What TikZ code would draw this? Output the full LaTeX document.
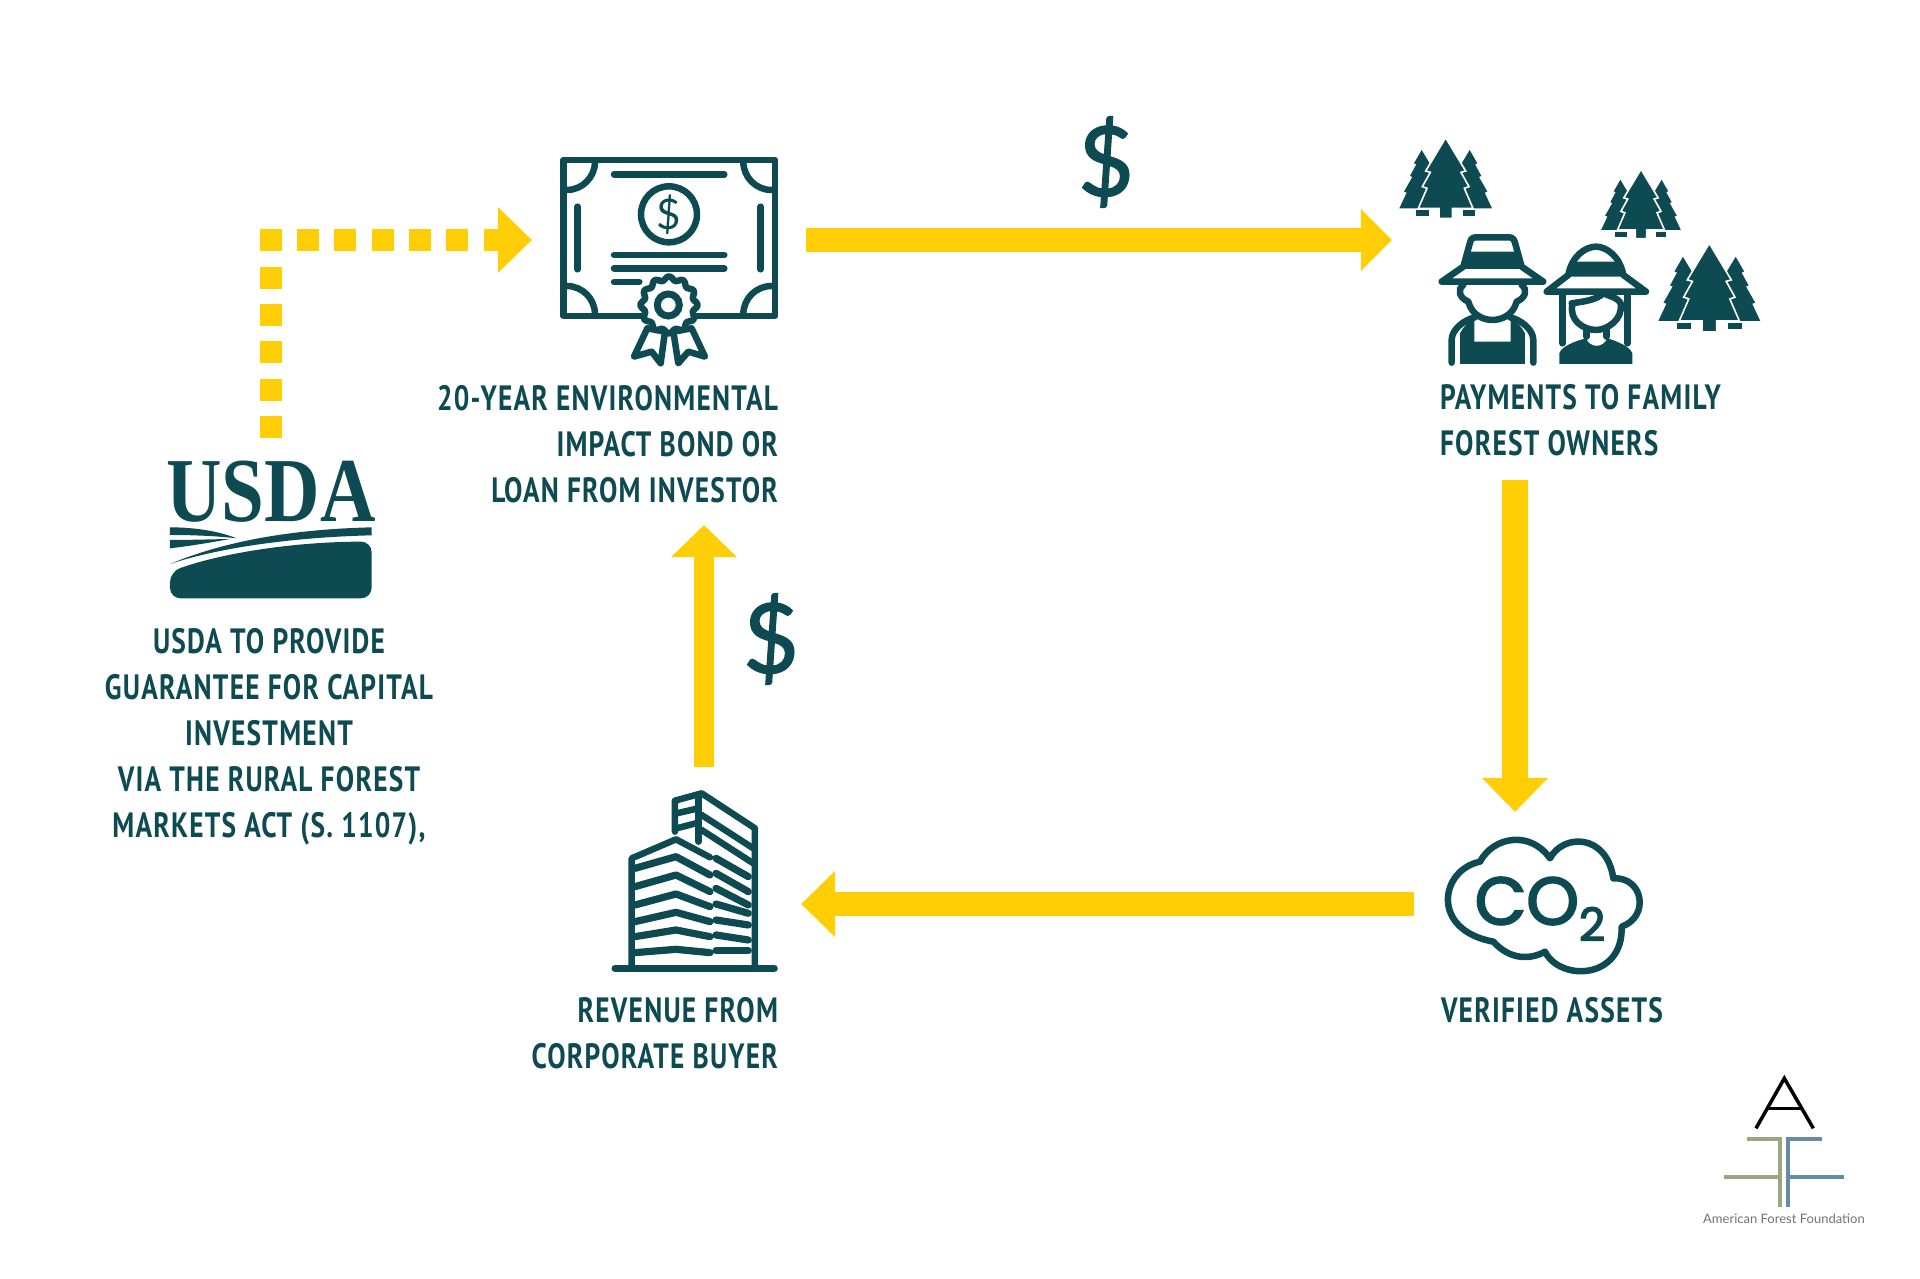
\documentclass[tikz,border=0pt]{standalone}
\usepackage{fontspec}
\usetikzlibrary{arrows.meta}
\newfontfamily\labelfont[FakeStretch=0.78,LetterSpace=3.5]{PT Sans}
\newfontfamily\usdafont[FakeStretch=0.84]{Liberation Serif}
\newfontfamily\plainfont{Lato}
\newfontfamily\dollarfont[FakeBold=1.5]{Lato}
\newfontfamily\roundfont[FakeBold=3]{Poppins}
\definecolor{forestteal}{HTML}{0E4A51}
\definecolor{flowyellow}{HTML}{FFCE07}
\definecolor{leafolive}{HTML}{9AA67E}
\definecolor{riverblue}{HTML}{668BA5}
\tikzset{
	flowline/.style={draw=flowyellow,line width=2.4mm,-{Triangle[length=3.4mm,width=6.4mm]}},
	spot/.style={inner sep=0pt,outer sep=0pt},
	caption/.style={spot,text=forestteal,font=\labelfont\bfseries\fontsize{10}{13.1}\selectfont},
	dollar/.style={spot,text=forestteal,font=\dollarfont\fontsize{27.5}{28}\selectfont},
	ink/.style={draw=forestteal,line width=0.65mm,line cap=round,line join=round},
	pics/pinetrio/.style={code={
		\fill[forestteal] (-30,0) -- (-20,-60) -- (-45,-130) -- (-72,-175) -- (-95,-135) -- (-88,-132) -- (-107,-97) -- (-100,-94) -- (-125,-50) -- (-117,-47) -- (-139,0) -- cycle;
		\fill[forestteal] (30,0) -- (20,-60) -- (45,-130) -- (72,-175) -- (95,-135) -- (88,-132) -- (107,-97) -- (100,-94) -- (125,-50) -- (117,-47) -- (139,0) -- cycle;
		\filldraw[fill=forestteal,draw=white,line width=0.16mm,line join=miter] (0,-212) -- (60,-112) -- (46,-108) -- (70,-65) -- (56,-60) -- (82,0) -- (20,0) -- (20,30) -- (-20,30) -- (-20,0) -- (-82,0) -- (-56,-60) -- (-70,-65) -- (-46,-108) -- (-60,-112) -- cycle;
		\fill[forestteal] (-89,6) rectangle (-50,23);
		\fill[forestteal] (51,6) rectangle (89,23);
	}}
}
\begin{document}
\begin{tikzpicture}[x=0.01cm,y=-0.01cm]
	\path[use as bounding box] (0,0) rectangle (1920,1279);

	\node[spot,text=forestteal,font=\usdafont\bfseries\fontsize{26}{26}\selectfont,minimum width=2.1cm,minimum height=1.08cm] (usda) at (271,492) {USDA};
	\node[spot,minimum width=2.74cm,minimum height=1cm] (bond) at (669,240) {};
	\node[spot,minimum width=2.46cm,minimum height=1cm] (owners) at (1515,240) {};
	\node[spot,minimum width=2.02cm,minimum height=1.84cm] (cloud) at (1515,904) {};
	\node[spot,minimum width=1.94cm,minimum height=2.74cm] (tower) at (704,904) {};

	\node[caption,align=center] (usdatext) at (269,737) {USDA TO PROVIDE\\GUARANTEE FOR CAPITAL\\INVESTMENT\\VIA THE RURAL FOREST\\MARKETS ACT (S. 1107),};
	\node[caption,align=right,anchor=east,minimum height=1.62cm] (bondtext) at (778,444) {20-YEAR ENVIRONMENTAL\\IMPACT BOND OR\\LOAN FROM INVESTOR};
	\node[caption,align=left,anchor=west,minimum height=1.2cm] (ownerstext) at (1440,420) {PAYMENTS TO FAMILY\\FOREST OWNERS};
	\node[caption,align=left,anchor=west] (cloudtext) at (1441,1010) {VERIFIED ASSETS};
	\node[caption,align=right,anchor=east] (towertext) at (778,1033) {REVENUE FROM\\CORPORATE BUYER};
	\node[dollar] (topdollar) at (1106,162) {\$};
	\node[dollar] (sidedollar) at (771,639) {\$};

	\draw[flowline,line width=2.2mm,dash pattern=on 0.22cm off 0.153cm] (usda.north) |- (bond.west);
	\draw[flowline,-{Triangle[length=3.1mm,width=6mm]}] (bond.east) -- (owners.west);
	\draw[flowline,line width=2.6mm] (ownerstext.south -| cloud.north) -- (cloud.north);
	\draw[flowline] (cloud.west) -- (tower.east);
	\draw[flowline,line width=2mm,-{Triangle[length=3.2mm,width=6.4mm]}] (tower.north) -- (tower.north |- bondtext.south);

	\begin{scope}[shift={(140,440)},scale=0.3333]
		\fill[forestteal] (90,262) .. controls (170,262) and (240,275) .. (290,295) .. controls (230,288) and (160,285) .. (90,285) -- cycle;
		\fill[forestteal] (90,300) .. controls (150,300) and (210,298) .. (270,297) .. controls (210,308) and (150,318) .. (90,325) -- cycle;
		\fill[forestteal] (90,372) .. controls (250,305) and (450,268) .. (695,262) -- (695,286) .. controls (450,292) and (230,325) .. (90,372) -- cycle;
		\fill[forestteal,rounded corners=3pt] (90,475) -- (90,395) .. controls (260,335) and (480,305) .. (695,305) -- (695,475) -- cycle;
	\end{scope}

	\begin{scope}[shift={(530,130)},scale=0.3333]
		\draw[ink] (100,90) rectangle (735,558);
		\draw[ink] (195,95) arc[start angle=0,end angle=90,radius=85];
		\draw[ink] (640,95) arc[start angle=180,end angle=90,radius=85];
		\draw[ink] (195,553) arc[start angle=0,end angle=-90,radius=85];
		\draw[ink] (640,553) arc[start angle=180,end angle=270,radius=85];
		\draw[ink] (252,133) -- (583,133);
		\draw[ink] (252,375) -- (583,375);
		\draw[ink] (252,415) -- (583,415);
		\draw[ink] (252,456) -- (328,456);
		\draw[ink] (143,230) -- (143,418);
		\draw[ink] (692,230) -- (692,418);
		\draw[ink] (417,253) circle[radius=84];
		\node[spot,text=forestteal,font=\plainfont\fontsize{12}{12}\selectfont] (seal) at (417,253) {\$};
		\filldraw[ink,fill=white] (352,595) -- (312,680) -- (365,665) -- (392,700) -- (405,605) -- cycle;
		\filldraw[ink,fill=white] (430,605) -- (445,700) -- (475,665) -- (525,680) -- (485,595) -- cycle;
		\filldraw[ink,fill=white] plot[smooth cycle,samples=73,domain=0:355] ({417+(80+6*cos(12*\x))*cos(\x)},{525+(80+6*cos(12*\x))*sin(\x)});
		\draw[forestteal,line width=0.7mm] (415,525) circle[radius=33];
	\end{scope}

	\begin{scope}[shift={(1380,120)},scale=0.3333]
		\pic[transform shape] (grovea) at (197,265) {pinetrio};
		\pic[transform shape,scale=0.86] (groveb) at (783,330) {pinetrio};
		\pic[transform shape,scale=1.1] (grovec) at (988,603) {pinetrio};
		\draw[ink] (185,485) -- (250,440) -- (270,368) .. controls (272,355) and (280,352) .. (290,352) -- (385,352) .. controls (395,352) and (402,355) .. (405,368) -- (425,440) -- (490,485) -- cycle;
		\fill[forestteal] (254,395) -- (420,395) -- (432,447) -- (243,447) -- cycle;
		\draw[ink] (250,495) .. controls (230,510) and (240,535) .. (265,545) .. controls (275,585) and (310,600) .. (337,600) .. controls (365,600) and (400,585) .. (410,545) .. controls (435,535) and (445,510) .. (425,495);
		\draw[ink] (215,728) -- (215,660) .. controls (215,630) and (250,600) .. (285,592);
		\draw[ink] (460,728) -- (460,660) .. controls (460,630) and (425,600) .. (390,592);
		\fill[forestteal] (240,732) -- (240,640) .. controls (250,620) and (265,605) .. (283,597) -- (283,665) -- (392,665) -- (392,597) .. controls (410,605) and (425,620) .. (435,640) -- (435,732) -- cycle;
		\draw[ink] (500,515) -- (565,465) .. controls (575,410) and (615,380) .. (648,380) .. controls (680,380) and (720,410) .. (730,465) -- (798,515) -- cycle;
		\fill[forestteal] (582,425) -- (712,425) -- (733,470) -- (562,470) -- cycle;
		\draw[ink] (548,520) -- (548,670);
		\draw[ink] (742,520) -- (742,670);
		\draw[ink] (575,550) .. controls (610,545) and (650,540) .. (670,520) .. controls (690,530) and (710,530) .. (722,550) .. controls (730,600) and (680,630) .. (648,630) .. controls (610,630) and (565,600) .. (578,550);
		\draw[ink] (620,630) -- (620,650);
		\draw[ink] (680,630) -- (680,650);
		\fill[forestteal] (538,732) -- (538,700) .. controls (545,680) and (580,665) .. (618,655) .. controls (630,685) and (670,685) .. (682,655) .. controls (715,665) and (750,680) .. (757,700) -- (757,732) -- cycle;
	\end{scope}

	\begin{scope}[shift={(1430,820)},scale=0.3333]
		\draw[ink] (360,115) .. controls (300,30) and (190,50) .. (150,125) .. controls (30,150) and (0,330) .. (190,365) .. controls (240,420) and (300,420) .. (345,395) .. controls (390,485) and (580,480) .. (575,320) .. controls (660,290) and (640,170) .. (550,175) .. controls (530,40) and (400,40) .. (360,115) -- cycle;
	\end{scope}
	\node[spot,text=forestteal,font=\roundfont\fontsize{19}{19}\selectfont] (carbon) at (1540,909) {CO\raisebox{-0.45ex}{\fontsize{13}{13}\selectfont 2}};

	\begin{scope}[shift={(590,780)},scale=0.3333]
		\draw[ink,line width=0.7mm] (75,565) -- (553,565);
		\draw[ink] (125,560) -- (125,235) -- (258,178) -- (360,232);
		\draw[ink] (495,560) -- (495,145) -- (335,40) -- (255,62) -- (255,155);
		\draw[ink] (325,45) -- (325,185);
		\draw[ink] (260,100) -- (325,85);
		\draw[ink] (260,145) -- (325,128);
		\draw[ink] (335,105) -- (490,205);
		\draw[ink] (335,150) -- (490,250);
		\foreach \ya/\yb/\yc in {265/230/285,320/285/335,375/342/380,425/397/425,470/450/470,518/508/518}
			\draw[ink,line width=0.72mm] (135,\ya) -- (258,\yb) -- (360,\yc);
		\foreach \yd/\ye in {235/290,280/335,325/375,372/400,420/435,465/480,512/512}
			\draw[ink,line width=0.72mm] (378,\yd) -- (475,\ye);
	\end{scope}

	\begin{scope}[shift={(1680,1060)},scale=0.3333]
		\draw[black,line width=0.35mm] (228,205) -- (313,55) -- (400,205);
		\draw[black,line width=0.35mm] (265,145) -- (362,145);
		\draw[leafolive,line width=0.4mm] (200,237) -- (300,237) -- (300,440);
		\draw[leafolive,line width=0.4mm] (133,352) -- (300,352);
		\draw[riverblue,line width=0.4mm] (425,237) -- (325,237) -- (325,440);
		\draw[riverblue,line width=0.4mm] (325,352) -- (492,352);
		\node[spot,text=black!55,font=\plainfont\fontsize{3.7}{4}\selectfont] (affname) at (312,475) {American Forest Foundation};
	\end{scope}
\end{tikzpicture}
\end{document}
